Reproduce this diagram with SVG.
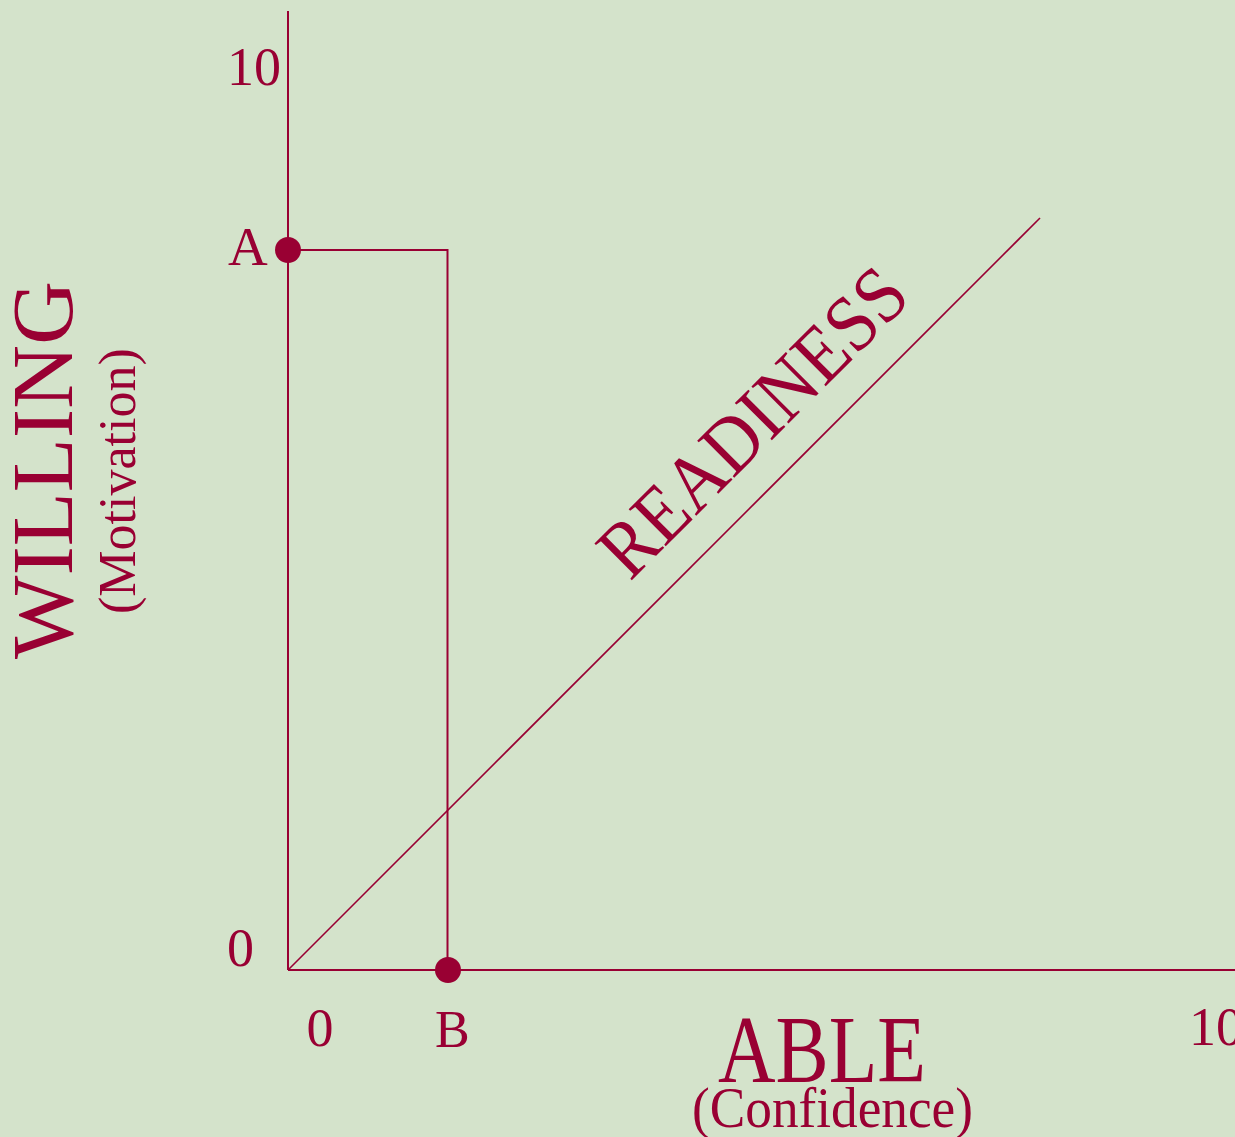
<svg xmlns="http://www.w3.org/2000/svg" width="1235" height="1137" viewBox="0 0 1235 1137">
<style>
.t{font-family:"Liberation Serif","Times New Roman",serif;fill:#990033}
.ln{stroke:#990033;fill:none}
</style>
<rect width="1235" height="1137" fill="#D4E3CB"/>
<g id="connectors">
<line class="ln" x1="288" y1="11" x2="288" y2="970" stroke-width="2"/>
<line class="ln" x1="288" y1="970" x2="1235" y2="970" stroke-width="2"/>
<line class="ln" x1="288" y1="970" x2="1040" y2="218" stroke-width="1.6"/>
<polyline class="ln" points="288,250 447.5,250 447.5,970" stroke-width="2"/>
</g>
<g id="pointA"><circle cx="288" cy="250" r="13" fill="#990033"/><text class="t" x="228" y="265" font-size="55">A</text></g>
<g id="pointB"><circle cx="448" cy="970" r="13" fill="#990033"/><text class="t" x="435" y="1047" font-size="52">B</text></g>
<g id="ticks">
<text class="t" x="281" y="85" font-size="54" text-anchor="end">10</text>
<text class="t" x="254" y="966" font-size="54" text-anchor="end">0</text>
<text class="t" x="320" y="1046" font-size="54" text-anchor="middle">0</text>
<text class="t" x="1189" y="1045" font-size="54">10</text>
</g>
<g id="yLabel">
<text class="t" font-size="87" transform="translate(72,659) rotate(-90)" textLength="378" lengthAdjust="spacingAndGlyphs">WILLING</text>
<text class="t" font-size="52" transform="translate(135,614) rotate(-90)">(Motivation)</text>
</g>
<g id="xLabel">
<text class="t" x="718" y="1082" font-size="96" textLength="208" lengthAdjust="spacingAndGlyphs">ABLE</text>
<text class="t" x="692" y="1127" font-size="56" textLength="281" lengthAdjust="spacingAndGlyphs">(Confidence)</text>
</g>
<g id="readiness">
<text class="t" font-size="80" transform="translate(630,582) rotate(-45)" textLength="400" lengthAdjust="spacingAndGlyphs">READINESS</text>
</g>
</svg>
